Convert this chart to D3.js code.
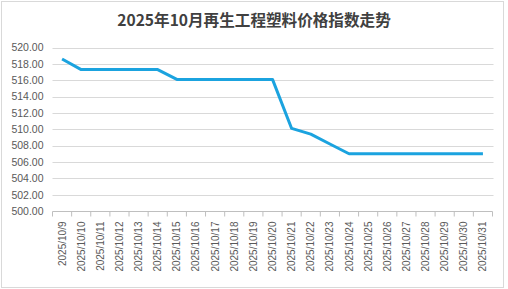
<!DOCTYPE html>
<html>
<head>
<meta charset="utf-8">
<script src="https://cdn.jsdelivr.net/npm/d3@7"></script>
<style>
body { margin: 0; background: #fff; }
svg { display: block; font-family: "Liberation Sans", Arial, sans-serif; }
</style>
</head>
<body>
<script>
var width = 508
var height = 289

var title = "2025年10月再生工程塑料价格指数走势"

var dates = ["2025/10/9", "2025/10/10", "2025/10/11", "2025/10/12", "2025/10/13", "2025/10/14",
    "2025/10/15", "2025/10/16", "2025/10/17", "2025/10/18", "2025/10/19", "2025/10/20",
    "2025/10/21", "2025/10/22", "2025/10/23", "2025/10/24", "2025/10/25", "2025/10/26",
    "2025/10/27", "2025/10/28", "2025/10/29", "2025/10/30", "2025/10/31"]

var values = [518.6, 517.3, 517.3, 517.3, 517.3, 517.3,
    516.1, 516.1, 516.1, 516.1, 516.1, 516.1,
    510.1, 509.4, 508.2, 507.0, 507.0, 507.0,
    507.0, 507.0, 507.0, 507.0, 507.0]

var yTicks = [500, 502, 504, 506, 508, 510, 512, 514, 516, 518, 520]

var margin = {left: 52.5, right: 15.5, top: 47.5, bottom: 78}

var svg = d3.select("body").append("svg")
    .attr("width", width)
    .attr("height", height)

svg.append("rect")
    .attr("x", 1.5).attr("y", 1.5)
    .attr("width", 502).attr("height", 286)
    .attr("fill", "#fff")
    .attr("stroke", "#d9d9d9")

svg.append("text")
    .attr("x", 254).attr("y", 26)
    .attr("text-anchor", "middle")
    .style("font-family", "'Noto Sans CJK SC', sans-serif")
    .style("font-size", "15.6px")
    .style("font-weight", "bold")
    .attr("fill", "#404040")
    .text(title)

var x = d3.scaleBand()
    .domain(dates)
    .range([margin.left, width - margin.right])

var y = d3.scaleLinear()
    .domain([500, 520])
    .range([height - margin.bottom, margin.top])

// gridlines
svg.append("g")
    .selectAll("line")
    .data(yTicks.slice(1))
    .join("line")
    .attr("x1", margin.left).attr("x2", width - margin.right + 1)
    .attr("y1", function(d) { return Math.round(y(d)) + 0.5 })
    .attr("y2", function(d) { return Math.round(y(d)) + 0.5 })
    .attr("stroke", "#d9d9d9")

var yAxis = d3.axisLeft(y)
    .tickValues(yTicks)
    .tickFormat(d3.format(".2f"))
    .tickSize(0)
    .tickPadding(9)

var gy = svg.append("g")
    .attr("transform", "translate(" + margin.left + ",0)")
    .call(yAxis)
gy.select(".domain").remove()
gy.selectAll("text")
    .attr("fill", "#595959")
    .style("font-size", "10.5px")

// x axis with ticks between categories
var gx = svg.append("g")
    .attr("transform", "translate(0," + (Math.round(y(500)) + 0.5) + ")")
gx.append("line")
    .attr("x1", margin.left).attr("x2", width - margin.right)
    .attr("stroke", "#bfbfbf")
gx.selectAll(".tk")
    .data(dates.concat(["end"]))
    .join("line")
    .attr("class", "tk")
    .attr("x1", function(d, i) { return margin.left + i * x.step() })
    .attr("x2", function(d, i) { return margin.left + i * x.step() })
    .attr("y1", 0).attr("y2", 5)
    .attr("stroke", "#bfbfbf")
gx.selectAll("text")
    .data(dates)
    .join("text")
    .attr("transform", function(d) {
        return "translate(" + (x(d) + x.bandwidth() / 2 + 3.5) + ",10) rotate(-90)"
    })
    .attr("text-anchor", "end")
    .attr("fill", "#595959")
    .style("font-size", "10px")
    .text(function(d) { return d })

var line = d3.line()
    .x(function(d, i) { return x(dates[i]) + x.bandwidth() / 2 })
    .y(function(d) { return y(d) })

svg.append("path")
    .datum(values)
    .attr("d", line)
    .attr("fill", "none")
    .attr("stroke", "#1ba3df")
    .attr("stroke-width", 3)
    .attr("stroke-linejoin", "round")
</script>
</body>
</html>
